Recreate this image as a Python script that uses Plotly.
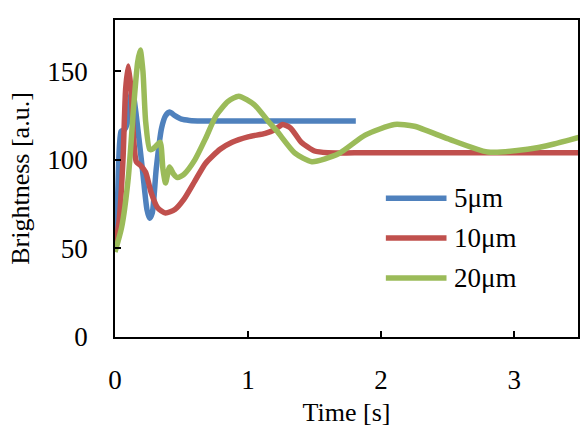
import plotly.graph_objects as go

# ---- data ----
t_5um = [0, 0.02, 0.045, 0.07, 0.09, 0.11, 0.13, 0.155, 0.18, 0.21, 0.24, 0.26, 0.28, 0.31, 0.35, 0.38, 0.41, 0.45, 0.5, 0.56, 0.65, 0.8, 1.2, 1.81]
v_5um = [50, 80, 116, 117, 120, 133, 140, 128, 112, 92, 72, 67, 70, 95, 118, 125, 127, 125, 123, 122.3, 122, 122, 122, 122]

t_10um = [0, 0.03, 0.06, 0.08, 0.10, 0.12, 0.14, 0.16, 0.19, 0.23, 0.27, 0.32, 0.38, 0.45, 0.52, 0.6, 0.68, 0.79, 0.88, 1.0, 1.13, 1.2, 1.26, 1.32, 1.4, 1.5, 1.6, 1.8, 2.5, 3.5]
v_10um = [50, 65, 100, 140, 153, 140, 112, 99, 97, 93, 82, 73, 70, 72, 78, 88, 98, 106, 110, 113, 115, 117, 120, 118, 110, 105, 104, 104, 104, 104]

t_20um = [0, 0.05, 0.10, 0.14, 0.17, 0.19, 0.21, 0.23, 0.26, 0.28, 0.31, 0.34, 0.36, 0.38, 0.41, 0.44, 0.47, 0.52, 0.6, 0.68, 0.76, 0.85, 0.93, 1.05, 1.15, 1.22, 1.35, 1.48, 1.68, 1.88, 2.1, 2.25, 2.5, 2.8, 3.1, 3.3, 3.5]
v_20um = [48, 62, 90, 130, 155, 162, 150, 122, 106, 106, 108, 110, 95, 87, 96, 92, 90, 92, 100, 112, 125, 133, 136, 131, 122, 116, 104, 99, 103.5, 114, 120, 119, 112, 104.5, 106, 109, 113]

names = ["5μm", "10μm", "20μm"]
colors = ["#4F81BD", "#C0504D", "#9BBB59"]
x_ticks = [0, 1, 2, 3]
y_ticks = [0, 50, 100, 150]

FONT = "Liberation Serif, Times New Roman, Times, serif"

fig = go.Figure()
for t, v, n, c in zip([t_5um, t_10um, t_20um], [v_5um, v_10um, v_20um], names, colors):
    fig.add_trace(go.Scatter(x=t, y=v, name=n, mode="lines",
                             line=dict(color=c, width=5.5, shape="spline", smoothing=0.6),
                             showlegend=False))

# custom legend (long line samples as in the reference)
leg_y = [0.438, 0.312, 0.186]
for n, c, yy in zip(names, colors, leg_y):
    fig.add_shape(type="line", xref="paper", yref="paper", x0=0.585, x1=0.716, y0=yy, y1=yy,
                  line=dict(color=c, width=5.5))
    fig.add_annotation(xref="paper", yref="paper", x=0.727, y=yy, text=n, showarrow=False,
                       xanchor="left", yanchor="middle", font=dict(family=FONT, size=27, color="black"))

axis_common = dict(showline=True, mirror=True, linecolor="black", linewidth=1.5,
                   ticks="inside", ticklen=6, tickwidth=1.5, tickcolor="black",
                   showgrid=False, zeroline=False,
                   tickfont=dict(family=FONT, size=27, color="black"))

fig.update_layout(
    width=582, height=427,
    margin=dict(l=115, r=2, t=20, b=90),
    paper_bgcolor="white", plot_bgcolor="white",
    xaxis=dict(range=[0, 3.48], tickvals=x_ticks, ticklabelstandoff=18,
               title=dict(text="Time [s]", font=dict(family=FONT, size=26, color="black"), standoff=12),
               **axis_common),
    yaxis=dict(range=[0, 179], tickvals=y_ticks, ticklabelstandoff=20,
               title=dict(text="Brightness [a.u.]", font=dict(family=FONT, size=26, color="black"), standoff=10),
               **axis_common),
)

fig.write_html("out.html")
